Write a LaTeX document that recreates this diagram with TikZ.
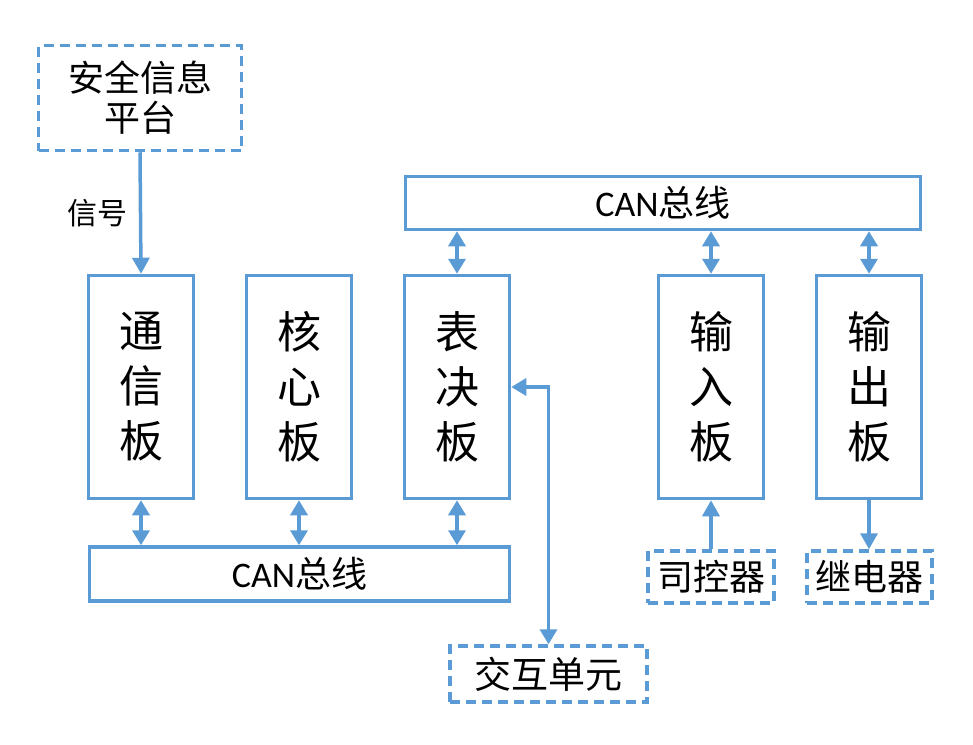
\documentclass[tikz,border=0pt]{standalone}
\usepackage{fontspec}
\setmainfont{Carlito}
\newfontfamily\cjk{Noto Sans CJK SC}
\usetikzlibrary{arrows.meta,positioning}
\definecolor{lineblue}{HTML}{5B9BD5}

\tikzset{
  box/.style={draw=lineblue,line width=3.5pt,inner sep=0pt,align=center},
  dbox/.style={box,dash pattern=on 10pt off 6pt},
  board/.style={box,minimum width=105pt,minimum height=223pt,
    font=\cjk\fontsize{44}{55}\selectfont},
  bus/.style={box,minimum height=54pt,font=\fontsize{36}{40}\selectfont},
  arr/.style={draw=lineblue,line width=3.5pt,
    -{Triangle[width=17pt,length=16pt]}},
  darr/.style={draw=lineblue,line width=3.5pt,
    {Triangle[width=17pt,length=15pt]}-{Triangle[width=17pt,length=15pt]}},
}

\begin{document}
\begin{tikzpicture}[x=1pt,y=-1pt]
\useasboundingbox (0,0) rectangle (973,744);
% upper part
\node[dbox,minimum width=203pt,minimum height=105pt,
  font=\cjk\fontsize{36}{40}\selectfont] (pingtai) at (140,98) {安全信息\\平台};
\node[font=\cjk\fontsize{30}{32}\selectfont] (xinhao) at (97,213) {信号};
\node[bus,minimum width=515pt,minimum height=53pt] (canup) at (663,203) {CAN{\cjk 总线}};
% boards
\node[board] (tongxin) at (141,387) {通\\信\\板};
\node[board] (hexin) at (299,387) {核\\心\\板};
\node[board] (biaojue) at (457,387) {表\\决\\板};
\node[board] (shuru) at (711,387) {输\\入\\板};
\node[board] (shuchu) at (869,387) {输\\出\\板};
% lower part
\node[bus,minimum width=420pt] (candown) at (299.5,574) {CAN{\cjk 总线}};
\node[dbox,minimum width=126pt,minimum height=52pt,
  font=\cjk\fontsize{36}{40}\selectfont] (sikong) at (711,577) {司控器};
\node[dbox,minimum width=125pt,minimum height=52pt,
  font=\cjk\fontsize{36}{40}\selectfont] (jidian) at (869.5,577) {继电器};
\node[dbox,minimum width=197pt,minimum height=56pt,
  font=\cjk\fontsize{37}{40}\selectfont] (jiaohu) at (548.5,674) {交互单元};
% connections
\draw[arr] (pingtai.south) -- (tongxin.north);
\draw[darr] (biaojue.north) -- (biaojue.north |- canup.south);
\draw[darr] (shuru.north) -- (shuru.north |- canup.south);
\draw[darr] (shuchu.north) -- (shuchu.north |- canup.south);
\draw[darr] (tongxin.south) -- (tongxin.south |- candown.north);
\draw[darr] (hexin.south) -- (hexin.south |- candown.north);
\draw[darr] (biaojue.south) -- (biaojue.south |- candown.north);
\draw[arr] (sikong.north) -- (shuru.south);
\draw[arr] (shuchu.south) -- (jidian.north -| shuchu.south);
\draw[darr] (biaojue.east) -| (jiaohu.north);
\end{tikzpicture}
\end{document}
